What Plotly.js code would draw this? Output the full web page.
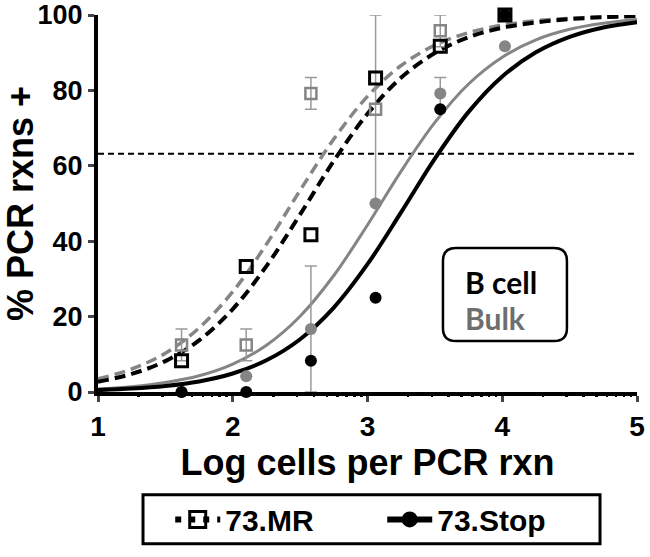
<!DOCTYPE html>
<html>
<head>
<meta charset="utf-8">
<script src="https://cdn.plot.ly/plotly-3.0.1.min.js"></script>
<style>
  body { margin: 0; background: #fff; }
  #plotArea { width: 650px; height: 557px; }
</style>
</head>
<body>
<div id="plotArea"></div>
<script>
// dilution points (log10 cells per reaction)
var logCells = [1.62, 2.10, 2.58, 3.06, 3.54, 4.02];

// % positive reactions
var bcellMR = [8.3, 33.3, 41.7, 83.3, 91.7, 100];
var bcellStop = [0, 0, 8.3, 25, 75, 100];
var bulkMR = [12.5, 12.5, 79.2, 75, 95.8, 100];
var bulkMRErr = [4.2, 4.2, 4.2, 25, 4.2, 0];
var bulkStop = [0, 4.2, 16.7, 50, 79.2, 91.7];
var bulkStopErr = [0, 0, 16.7, 0, 4.2, 0];

// fitted curves
var fitX = [1, 1.25, 1.5, 1.75, 2, 2.25, 2.5, 2.75, 3, 3.25, 3.5, 3.75, 4, 4.25, 4.5, 4.75, 5];
var fitBulkMR = [3.5, 6.1, 10.3, 17.0, 26.6, 39.2, 53.5, 67.1, 78.4, 86.6, 92.0, 95.3, 97.3, 98.5, 99.1, 99.5, 99.7];
var fitBcellMR = [2.7, 4.8, 8.2, 13.7, 22.0, 33.4, 47.1, 61.3, 73.8, 83.4, 89.9, 94.1, 96.6, 98.0, 98.9, 99.4, 99.7];
var fitBulkStop = [0.8, 1.4, 2.5, 4.3, 7.4, 12.4, 20.1, 30.9, 44.3, 58.6, 71.5, 81.7, 88.8, 93.4, 96.2, 97.8, 98.8];
var fitBcellStop = [0.5, 0.9, 1.6, 2.8, 4.9, 8.4, 14.0, 22.4, 33.9, 47.7, 61.9, 74.3, 83.7, 90.1, 94.2, 96.7, 98.1];

var threshold = 63.2;
var xTicks = [1, 2, 3, 4, 5];
var yTicks = [0, 20, 40, 60, 80, 100];

var gray = '#858585';
var errGray = '#9a9a9a';

// minor ticks of the log axis
var minorTicks = [];
for (var d = 1; d < 5; d++) {
  for (var k = 2; k < 10; k++) minorTicks.push(d + Math.log10(k));
}

var traces = [
  {x: [xTicks[0], xTicks[xTicks.length - 1]], y: [threshold, threshold], mode: 'lines',
   line: {color: '#000', width: 2, dash: '6px,4px'}, showlegend: false, hoverinfo: 'skip'},
  {x: fitX, y: fitBulkMR, mode: 'lines', line: {color: gray, width: 3.5, dash: '11px,6px', shape: 'spline'}, showlegend: false},
  {x: fitX, y: fitBcellMR, mode: 'lines', line: {color: '#000', width: 4, dash: '11px,6px', shape: 'spline'}, showlegend: false},
  {x: fitX, y: fitBulkStop, mode: 'lines', line: {color: gray, width: 3, shape: 'spline'}, showlegend: false},
  {x: fitX, y: fitBcellStop, mode: 'lines', line: {color: '#000', width: 4, shape: 'spline'}, showlegend: false},

  {x: logCells, y: bulkMR, mode: 'markers', cliponaxis: false, showlegend: false,
   error_y: {type: 'data', array: bulkMRErr, color: errGray, thickness: 1.5, width: 6},
   marker: {symbol: 'square-open', size: 11, color: gray, line: {width: 2.5, color: gray}}},
  {x: logCells, y: bulkStop, mode: 'markers', cliponaxis: false, showlegend: false,
   error_y: {type: 'data', array: bulkStopErr, color: errGray, thickness: 1.5, width: 6},
   marker: {symbol: 'circle', size: 12, color: gray}},
  {x: logCells, y: bcellMR, mode: 'markers', cliponaxis: false, showlegend: false,
   marker: {symbol: 'square-open', size: 12, color: '#000', line: {width: 3, color: '#000'}}},
  {x: logCells, y: bcellStop, mode: 'markers', cliponaxis: false, showlegend: false,
   marker: {symbol: 'circle', size: 12, color: '#000'}},

  // legend entries
  {x: [null], y: [null], name: '73.MR', mode: 'lines+markers',
   line: {color: '#000', width: 6, dash: '6px,8px'},
   marker: {symbol: 'square-open', size: 16, color: '#000', line: {width: 3, color: '#000'}}},
  {x: [null], y: [null], name: '73.Stop', mode: 'lines+markers',
   line: {color: '#000', width: 6},
   marker: {symbol: 'circle', size: 18, color: '#000'}},

  // minor ticks on the x axis
  {x: [null], y: [null], xaxis: 'x2', showlegend: false, hoverinfo: 'skip'}
];

var fam = 'Liberation Sans, Arial, sans-serif';

var x0 = 0.640, x1 = 0.870, y0 = 0.135, y1 = 0.382, rx = 0.024, ry = 0.034;
var boxPath = 'M' + (x0 + rx) + ',' + y1 + ' L' + (x1 - rx) + ',' + y1 +
  ' Q' + x1 + ',' + y1 + ' ' + x1 + ',' + (y1 - ry) + ' L' + x1 + ',' + (y0 + ry) +
  ' Q' + x1 + ',' + y0 + ' ' + (x1 - rx) + ',' + y0 + ' L' + (x0 + rx) + ',' + y0 +
  ' Q' + x0 + ',' + y0 + ' ' + x0 + ',' + (y0 + ry) + ' L' + x0 + ',' + (y1 - ry) +
  ' Q' + x0 + ',' + y1 + ' ' + (x0 + rx) + ',' + y1 + ' Z';

var layout = {
  width: 650, height: 557,
  margin: {l: 98, r: 13, t: 15, b: 157},
  paper_bgcolor: '#fff', plot_bgcolor: '#fff',
  showlegend: true,
  font: {family: fam, color: '#000', weight: 'bold'},
  xaxis: {
    range: [1, 5], tickvals: xTicks, ticks: 'outside', ticklen: 6, tickwidth: 3,
    showline: true, linewidth: 4, linecolor: '#000', showgrid: false, zeroline: false,
    tickfont: {family: fam, size: 28, color: '#000', weight: 'bold'},
    title: {text: 'Log cells per PCR rxn', font: {family: fam, size: 36, color: '#000', weight: 'bold'}, standoff: 10},
    fixedrange: true
  },
  xaxis2: {
    overlaying: 'x', anchor: 'y', side: 'bottom', range: [1, 5],
    tickvals: minorTicks, ticks: 'outside', ticklen: 4, tickwidth: 2.5, tickcolor: '#000',
    showticklabels: false, showline: false, showgrid: false, zeroline: false
  },
  yaxis: {
    range: [0, 100], tickvals: yTicks, ticks: 'outside', ticklen: 6, tickwidth: 3,
    showline: true, linewidth: 4, linecolor: '#000', showgrid: false, zeroline: false,
    tickfont: {family: fam, size: 27, color: '#000', weight: 'bold'},
    title: {text: '% PCR rxns +', font: {family: fam, size: 36, color: '#000', weight: 'bold'}, standoff: 4},
    fixedrange: true
  },
  legend: {
    orientation: 'h', x: 0.134, xanchor: 'left', y: -0.338, yanchor: 'middle',
    borderwidth: 0, bgcolor: 'rgba(0,0,0,0)',
    font: {family: fam, size: 30, color: '#000', weight: 'bold'},
    itemwidth: 45, entrywidth: 152
  },
  shapes: [
    {type: 'path', xref: 'paper', yref: 'paper', path: boxPath, line: {color: '#000', width: 2.5}},
    {type: 'rect', xref: 'paper', yref: 'paper', x0: 0.0835, x1: 0.9314, y0: -0.4026, y1: -0.2727,
     line: {color: '#000', width: 3}}
  ],
  annotations: [
    {xref: 'paper', yref: 'paper', x: 0.677, y: 0.292, xanchor: 'left', yanchor: 'middle', showarrow: false,
     text: 'B cell', font: {family: 'Lato, sans-serif', size: 30, color: '#000', weight: 'bold'}},
    {xref: 'paper', yref: 'paper', x: 0.677, y: 0.197, xanchor: 'left', yanchor: 'middle', showarrow: false,
     text: 'Bulk', font: {family: 'Lato, sans-serif', size: 30, color: '#6e6e6e', weight: 'bold'}}
  ]
};

Plotly.newPlot('plotArea', traces, layout, {displayModeBar: false, staticPlot: true});
</script>
</body>
</html>
